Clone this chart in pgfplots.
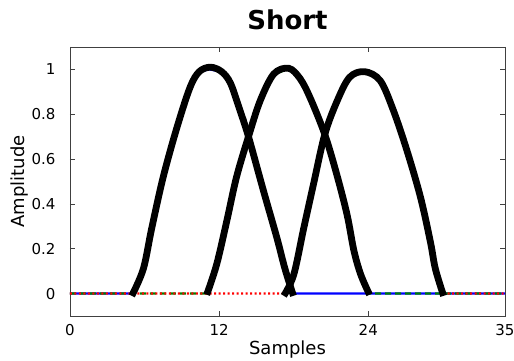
\documentclass[border=0pt]{standalone}
\usepackage{pgfplots}
\pgfplotsset{compat=1.18}
\usepackage{fontspec}
\setmainfont{DejaVu Sans}
\definecolor{mgreen}{rgb}{0,0.5,0}
\begin{document}
\begin{tikzpicture}
\path[use as bounding box] (-70pt,-45pt) rectangle (444pt,316pt);
\begin{axis}[
  scale only axis,
  width=435pt, height=269pt,
  xmin=0, xmax=35, ymin=-0.1, ymax=1.1,
  xtick={0,12,24,35},
  ytick={0,0.2,0.4,0.6,0.8,1},
  tick align=inside,
  major tick length=5pt,
  axis line style={line width=0.8pt, black!75},
  every tick/.style={black!75, line width=0.6pt},
  /pgf/number format/assume math mode=true,
  ticklabel style={font=\fontsize{15}{17}\selectfont},
  yticklabel style={xshift=-11pt},
  xticklabel style={yshift=-5pt},
  title={Short},
  title style={font=\fontsize{26}{30}\selectfont\bfseries, at={(axis description cs:0.5,1.079)}, anchor=center},
  xlabel={Samples},
  xlabel style={font=\fontsize{18}{21}\selectfont, at={(axis description cs:0.5,-0.126)}, anchor=center},
  ylabel={Amplitude},
  ylabel style={font=\fontsize{18}{21}\selectfont, at={(axis description cs:-0.115,0.5)}, anchor=center},
  clip=true,
]
% underlying coloured windows
\addplot[blue, line width=2.2pt] coordinates {
 (0,0)(5,0)(5.9,0.11)(6.57,0.29)(7.5,0.52)(8.6,0.74)(9.66,0.92)(10.4,0.99)(11.2,1.0)(12.2,0.99)(12.9,0.95)(13.6,0.84)(14.36,0.70)(15.56,0.46)(16.64,0.25)(17.3,0.11)(17.9,0)(24,0)(35,0)};
\addplot[mgreen, line width=2.2pt, dash pattern=on 6pt off 4pt] coordinates {
 (0,0)(11,0)(11.8,0.13)(12.6,0.32)(13.4,0.52)(14.36,0.70)(15.3,0.86)(16.4,0.98)(17.6,1.0)(18.5,0.96)(19.3,0.876)(20.5,0.71)(21.47,0.53)(22.4,0.34)(22.8,0.19)(23.35,0.084)(24.1,0)(30,0)(35,0)};
\addplot[red, line width=2.2pt, dash pattern=on 2pt off 2.5pt] coordinates {
 (0,0)(11,0)(17.2,0)(18.0,0.084)(18.8,0.29)(19.6,0.49)(20.5,0.71)(21.5,0.86)(22.5,0.965)(23.7,0.99)(24.96,0.95)(26.0,0.82)(27.1,0.64)(28.2,0.43)(29.0,0.23)(29.4,0.11)(30.06,0)(35,0)};
% thick black overlays
\addplot[black, line width=6.8pt, smooth, tension=0.55] coordinates {
 (4.97,-0.01)(5.9,0.11)(6.57,0.29)(7.5,0.52)(8.6,0.74)(9.66,0.92)(10.4,0.99)(11.3,1.01)(12.2,0.99)(12.9,0.94)(13.6,0.83)(14.36,0.70)(15.56,0.46)(16.64,0.25)(17.3,0.11)(17.98,-0.01)};
\addplot[black, line width=6.8pt, smooth, tension=0.55] coordinates {
 (11.0,-0.005)(11.8,0.13)(12.6,0.32)(13.4,0.52)(14.36,0.70)(15.3,0.86)(16.4,0.98)(17.6,1.005)(18.5,0.96)(19.3,0.876)(20.5,0.71)(21.47,0.53)(22.3,0.35)(22.85,0.19)(23.4,0.084)(24.1,-0.005)};
\addplot[black, line width=6.8pt, smooth, tension=0.55] coordinates {
 (17.2,-0.01)(18.0,0.084)(18.8,0.29)(19.6,0.49)(20.5,0.71)(21.5,0.86)(22.5,0.965)(23.7,0.99)(24.96,0.95)(26.0,0.82)(27.1,0.64)(28.2,0.43)(29.0,0.23)(29.4,0.11)(30.06,-0.01)};
\end{axis}
\end{tikzpicture}
\end{document}
